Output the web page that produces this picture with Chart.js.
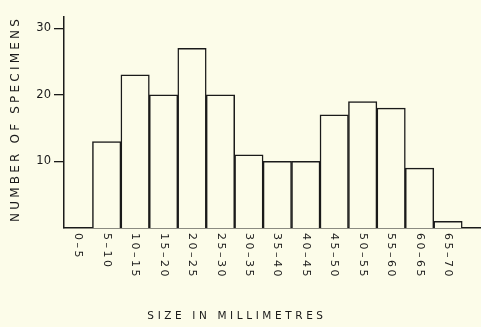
<!DOCTYPE html>
<html>
<head>
<meta charset="utf-8">
<script src="https://cdn.jsdelivr.net/npm/chart.js@4.4.1/dist/chart.umd.min.js"></script>
<style>
  html, body { margin: 0; padding: 0; background: #fcfce9; }
  #wrap { width: 481px; height: 327px; }
</style>
</head>
<body>
<div id="wrap"><canvas id="hist"></canvas></div>
<script>
// size classes (mm) and how many specimens fell in each
var sizeClasses = ['0–5', '5–10', '10–15', '15–20', '20–25', '25–30', '30–35',
                   '35–40', '40–45', '45–50', '50–55', '55–60', '60–65', '65–70'];
var classMids = [2.5, 7.5, 12.5, 17.5, 22.5, 27.5, 32.5, 37.5, 42.5, 47.5, 52.5, 57.5, 62.5, 67.5];
var specimenCounts = [0, 13, 23, 20, 27, 20, 11, 10, 10, 17, 19, 18, 9, 1];
var yTicks = [10, 20, 30];

var xTitle = 'SIZE IN MILLIMETRES';
var yTitle = 'NUMBER OF SPECIMENS';

var ink = '#1a1a1a';
var paper = '#fcfce9';
var fontName = '"DejaVu Sans", sans-serif';

var points = [];
for (var i = 0; i < specimenCounts.length; i++) {
    points.push({ x: classMids[i], y: specimenCounts[i] });
}

// rotated class labels + the two titles, drawn by hand (they read top-to-bottom)
var labelPlugin = {
    id: 'handLabels',
    afterDraw: function (chart) {
        var ctx = chart.ctx;
        var xs = chart.scales.x;
        var base = chart.chartArea.bottom;

        ctx.save();
        ctx.fillStyle = ink;
        ctx.font = '11px ' + fontName;
        ctx.letterSpacing = '2.5px';
        ctx.textAlign = 'left';
        ctx.textBaseline = 'middle';
        for (var i = 0; i < sizeClasses.length; i++) {
            ctx.save();
            ctx.translate(xs.getPixelForValue(classMids[i]), base + 5);
            ctx.rotate(Math.PI / 2);
            ctx.fillText(sizeClasses[i], 0, 0);
            ctx.restore();
        }

        ctx.font = '10.5px ' + fontName;
        ctx.letterSpacing = '3.6px';
        ctx.textAlign = 'center';
        ctx.fillText(xTitle, 237, 316);

        ctx.font = '12px ' + fontName;
        ctx.letterSpacing = '3.2px';
        ctx.translate(16, 119);
        ctx.rotate(-Math.PI / 2);
        ctx.fillText(yTitle, 0, 0);
        ctx.restore();
    }
};

new Chart(document.getElementById('hist'), {
    type: 'bar',
    data: {
        datasets: [{
            data: points,
            backgroundColor: paper,
            borderColor: ink,
            borderWidth: 1.5,
            borderSkipped: 'bottom',
            barPercentage: 1,
            categoryPercentage: 1
        }]
    },
    options: {
        responsive: true,
        maintainAspectRatio: false,
        animation: false,
        layout: { padding: { top: 17, right: 0, left: 0, bottom: 0 } },
        plugins: {
            legend: { display: false },
            tooltip: { enabled: false }
        },
        scales: {
            x: {
                type: 'linear',
                min: 0,
                max: 73.3,
                offset: false,
                grid: { display: false },
                border: { display: true, color: ink, width: 1.5 },
                ticks: { display: false },
                afterFit: function (s) { s.height = 99; }
            },
            y: {
                min: 0,
                max: 31.7,
                afterBuildTicks: function (s) {
                    s.ticks = yTicks.map(function (v) { return { value: v }; });
                },
                grid: {
                    drawOnChartArea: false,
                    drawTicks: true,
                    tickLength: 10,
                    color: ink,
                    lineWidth: 1.3
                },
                border: { display: true, color: ink, width: 1.5 },
                ticks: {
                    color: ink,
                    padding: 3,
                    font: { family: fontName, size: 11.5 }
                },
                afterFit: function (s) { s.width = 64; }
            }
        }
    },
    plugins: [labelPlugin]
});
</script>
</body>
</html>
